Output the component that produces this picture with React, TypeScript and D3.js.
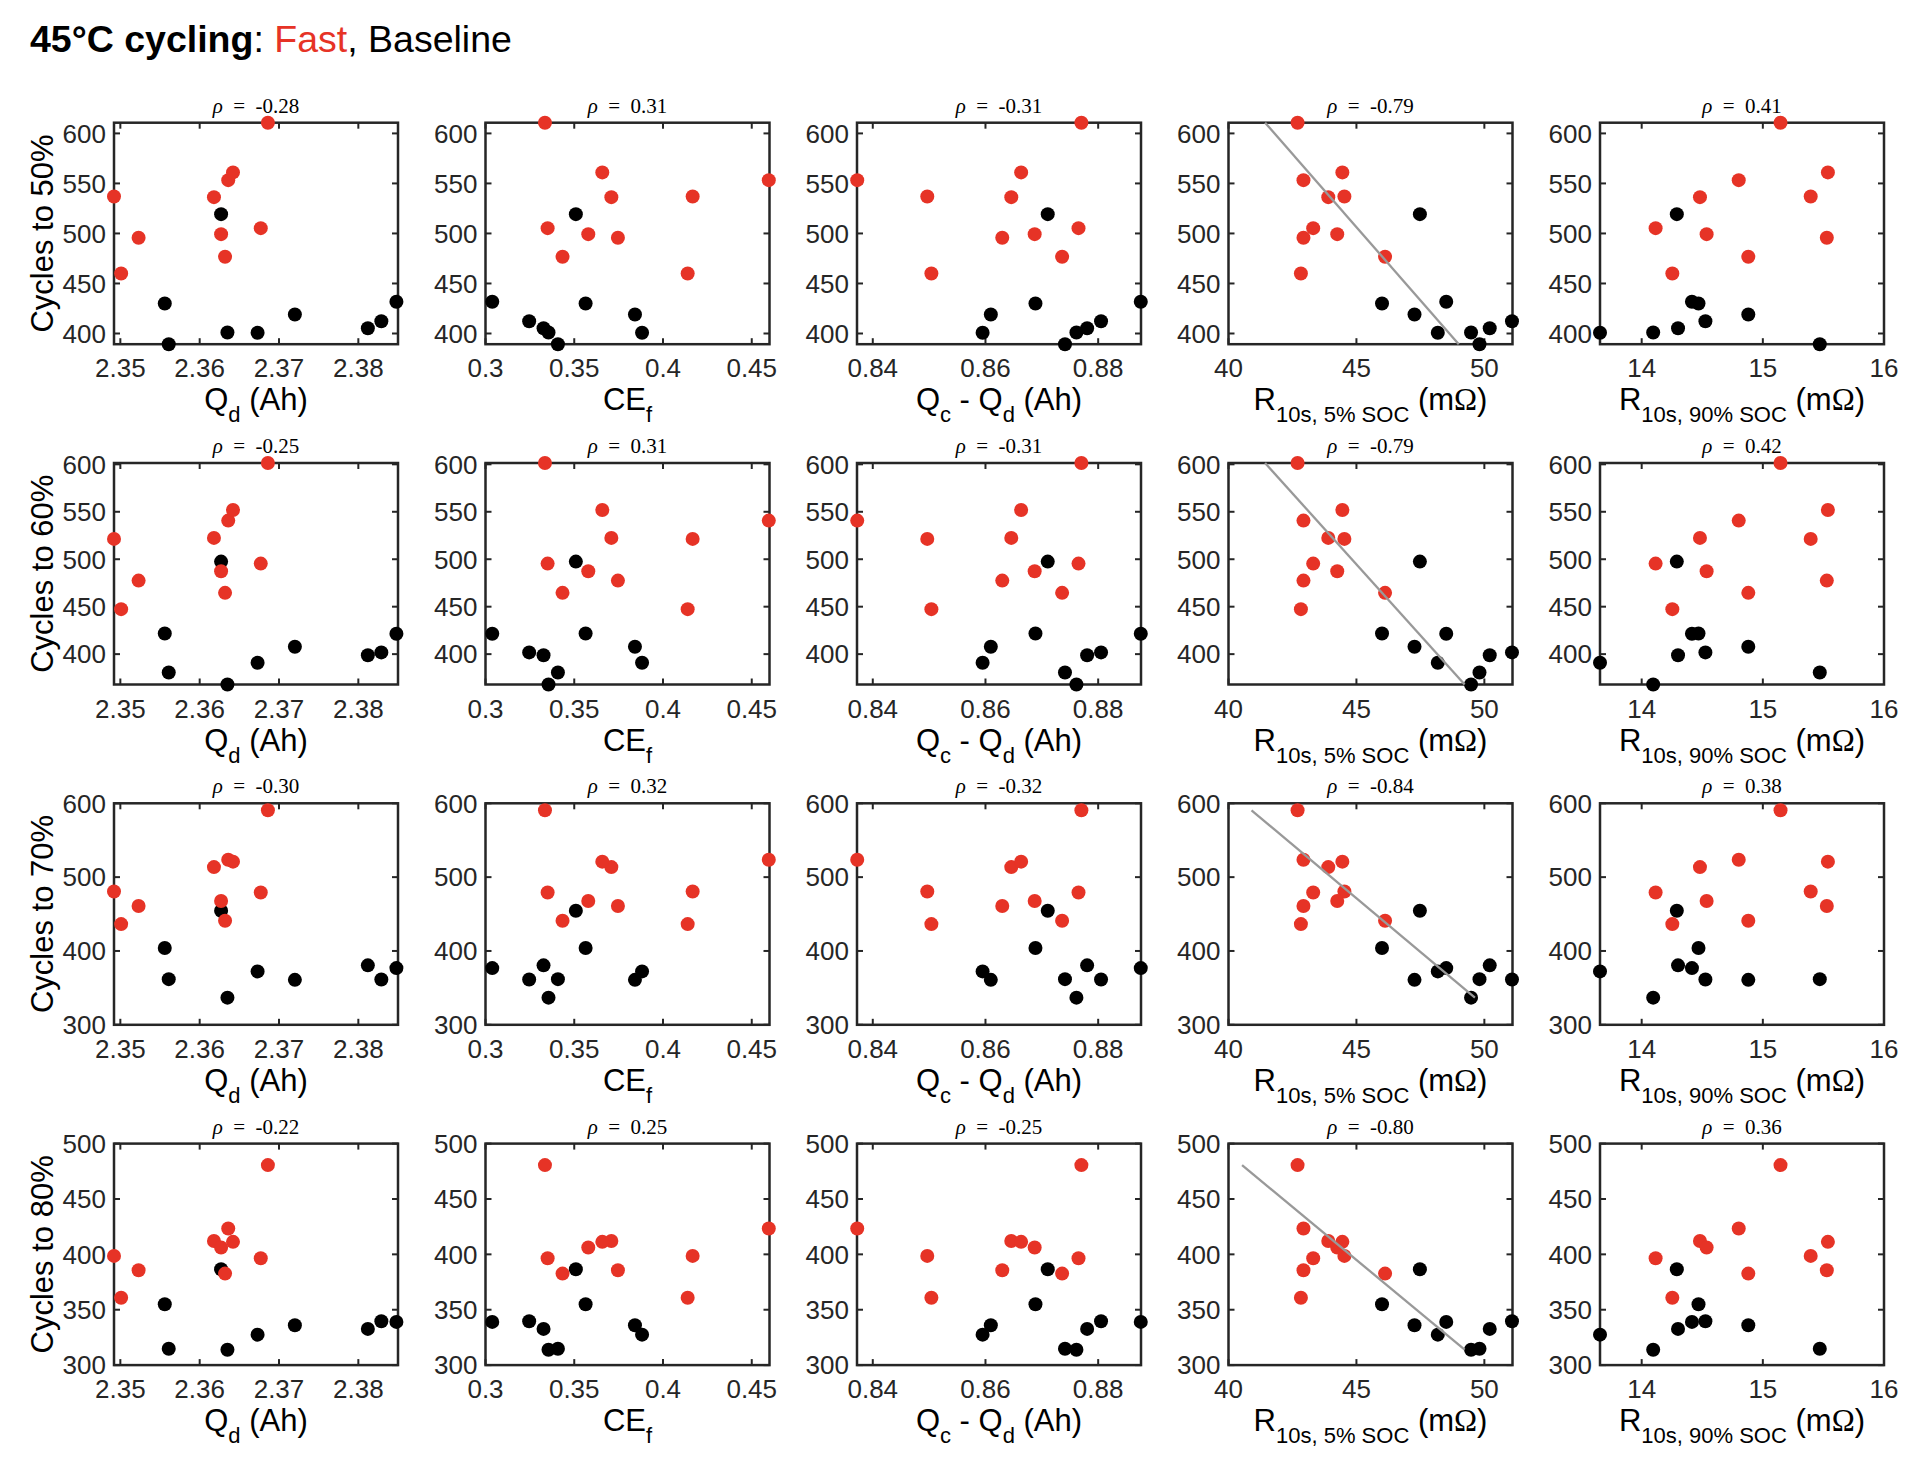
import React from 'react';
import * as d3 from 'd3';

// ---- data: 19 cells (10 Fast, 9 Baseline) ----
const group = ['F','F','F','F','F','F','F','F','F','F','B','B','B','B','B','B','B','B','B'];
const qd = [2.3492, 2.3501, 2.3523, 2.3618, 2.3636, 2.3642, 2.3627, 2.3632, 2.3677, 2.3686, 2.3556, 2.3561, 2.3627, 2.3635, 2.3673, 2.3720, 2.3812, 2.3829, 2.3848];
const ceF = [0.4167, 0.4139, 0.3746, 0.3709, 0.4596, 0.3658, 0.3579, 0.3434, 0.3350, 0.3335, 0.3564, 0.3408, 0.3509, 0.3355, 0.3882, 0.3842, 0.3327, 0.3246, 0.3038];
const qcMinusQd = [0.84967, 0.85040, 0.86298, 0.86458, 0.83724, 0.86633, 0.86873, 0.87360, 0.87651, 0.87702, 0.86887, 0.87411, 0.87105, 0.87614, 0.85949, 0.86095, 0.87804, 0.88051, 0.88756];
const r5soc = [44.53, 42.83, 42.93, 43.90, 42.93, 44.45, 44.25, 46.12, 43.31, 42.70, 46.00, 49.81, 47.48, 49.48, 48.18, 47.27, 50.21, 51.08, 48.51];
const r90soc = [15.395, 14.253, 15.528, 14.481, 14.801, 15.537, 14.536, 14.880, 14.115, 15.146, 14.469, 15.470, 14.290, 14.095, 13.656, 14.880, 14.300, 14.526, 14.415];
const cyc50 = [537, 460, 495.7, 536.3, 553.3, 561, 499.3, 476.7, 505.3, 610.7, 430, 389.3, 519.3, 401, 400.7, 419, 405.3, 412.3, 431.7];
const cyc60 = [521.4, 447.4, 477.5, 522.5, 540.7, 551.9, 487.4, 464.6, 495.4, 601.4, 421.8, 380.7, 497.5, 368, 390.9, 407.7, 398.9, 401.8, 421.4];
const cyc70 = [480.5, 436.4, 460.9, 513.6, 523.6, 521, 467.7, 440.9, 479.1, 590.5, 404, 361.8, 454.5, 336.8, 372.3, 360.9, 380.5, 361.4, 376.8];
const cyc80 = [398.6, 360.8, 385.6, 412, 423.4, 411.3, 406.2, 382.6, 396.5, 480.6, 355, 314.8, 386.5, 313.9, 327.5, 336, 332.7, 339.6, 339];

const xDomains = [[2.3492, 2.3850], [0.30, 0.46], [0.8372, 0.8876], [40, 51.1], [13.656, 16]];
const xTicks = [[2.35, 2.36, 2.37, 2.38], [0.3, 0.35, 0.4, 0.45], [0.84, 0.86, 0.88], [40, 45, 50], [14, 15, 16]];
const yDomains = [[389.3, 610.7], [368, 601.4], [300, 600], [300, 500]];
const yTicks = [[400, 450, 500, 550, 600], [400, 450, 500, 550, 600], [300, 400, 500, 600], [300, 350, 400, 450, 500]];
const rowLabels = ['Cycles to 50%', 'Cycles to 60%', 'Cycles to 70%', 'Cycles to 80%'];
const rhoValues = [
  [-0.28, 0.31, -0.31, -0.79, 0.41],
  [-0.25, 0.31, -0.31, -0.79, 0.42],
  [-0.30, 0.32, -0.32, -0.84, 0.38],
  [-0.22, 0.25, -0.25, -0.80, 0.36],
];
// fit line in the R(5% SOC) column: x at the row's max cycles and x at the row's min cycles
const fitXAtMaxY = [41.43, 41.43, 40.9, 40.53];
const fitXAtMinY = [49.0, 49.23, 49.63, 49.23];

const xSeries = [qd, ceF, qcMinusQd, r5soc, r90soc];
const ySeries = [cyc50, cyc60, cyc70, cyc80];

// ---- layout / style ----
const W = 1916, H = 1470;
const RED = '#E63326';
const AX = '#262626';
const SANS = '"Liberation Sans", Arial, Helvetica, sans-serif';
const SERIF = '"Liberation Serif", "Times New Roman", serif';
const colLeft0 = 114, colStep = 371.5, plotW = 284;
const rowTop0 = 122.7, rowStep = 340.3, plotH = 221.5;
const tickLen = 6;
const tickFs = 26;
const labelFs = 31;
const subFs = 22;
const subDy = 12;
const dotR = 7;

function fmt(v: number) {
  return String(+v.toFixed(4));
}

function XLabel({ col }: { col: number }) {
  const sub = (t: string) => (
    <tspan dy={subDy} fontSize={subFs}>{t}</tspan>
  );
  const back = (t: string) => <tspan dy={-subDy}>{t}</tspan>;
  if (col === 0) return <>{'Q'}{sub('d')}{back(' (Ah)')}</>;
  if (col === 1) return <>{'CE'}{sub('f')}</>;
  if (col === 2) return <>{'Q'}{sub('c')}{back(' - Q')}{sub('d')}{back(' (Ah)')}</>;
  const s = col === 3 ? '10s, 5% SOC' : '10s, 90% SOC';
  return <>{'R'}{sub(s)}{back(' (m')}<tspan fontFamily={SERIF}>Ω</tspan><tspan>)</tspan></>;
}

function Panel({ row, col }: { row: number; col: number }) {
  const left = colLeft0 + col * colStep;
  const top = rowTop0 + row * rowStep;
  const x = d3.scaleLinear().domain(xDomains[col]).range([left, left + plotW]);
  const y = d3.scaleLinear().domain(yDomains[row]).range([top + plotH, top]);
  const xs = xSeries[col];
  const ys = ySeries[row];
  const idx = d3.range(xs.length);
  const base = idx.filter((i) => group[i] === 'B');
  const fast = idx.filter((i) => group[i] === 'F');
  const [yMin, yMax] = d3.extent(ys) as [number, number];
  const rho = rhoValues[row][col];
  const line = d3.line<[number, number]>().x((d) => x(d[0])).y((d) => y(d[1]));
  return (
    <g>
      {xTicks[col].map((t) => (
        <g key={'xt' + t}>
          <line x1={x(t)} x2={x(t)} y1={top + plotH} y2={top + plotH - tickLen} stroke={AX} strokeWidth={2} />
          <line x1={x(t)} x2={x(t)} y1={top} y2={top + tickLen} stroke={AX} strokeWidth={2} />
          <text x={x(t)} y={top + plotH + 33} textAnchor="middle" fontSize={tickFs} fill={AX}>{fmt(t)}</text>
        </g>
      ))}
      {yTicks[row].map((t) => (
        <g key={'yt' + t}>
          <line x1={left} x2={left + tickLen} y1={y(t)} y2={y(t)} stroke={AX} strokeWidth={2} />
          <line x1={left + plotW} x2={left + plotW - tickLen} y1={y(t)} y2={y(t)} stroke={AX} strokeWidth={2} />
          <text x={left - 8} y={y(t)} dy="0.36em" textAnchor="end" fontSize={tickFs} fill={AX}>{fmt(t)}</text>
        </g>
      ))}
      <rect x={left} y={top} width={plotW} height={plotH} fill="none" stroke={AX} strokeWidth={2.5} />
      {base.map((i) => (
        <circle key={'b' + i} cx={x(xs[i])} cy={y(ys[i])} r={dotR} fill="#000" />
      ))}
      {fast.map((i) => (
        <circle key={'f' + i} cx={x(xs[i])} cy={y(ys[i])} r={dotR} fill={RED} />
      ))}
      {col === 3 && (
        <path
          d={line([[fitXAtMaxY[row], yMax], [fitXAtMinY[row], yMin]]) || ''}
          stroke="#999999"
          strokeWidth={2.3}
          fill="none"
        />
      )}
      <text x={left + plotW / 2} y={top - 10} textAnchor="middle" fontFamily={SERIF} fontSize={21} fill="#000" style={{ whiteSpace: 'pre' }}>
        <tspan fontStyle="italic">ρ</tspan>
        <tspan>{'\u2002=\u2002' + rho.toFixed(2)}</tspan>
      </text>
      <text x={left + plotW / 2} y={top + plotH + 66} textAnchor="middle" fontSize={labelFs} fill="#000" style={{ whiteSpace: 'pre' }}>
        <XLabel col={col} />
      </text>
      {col === 0 && (
        <text
          transform={`translate(${53},${top + plotH / 2}) rotate(-90)`}
          textAnchor="middle"
          fontSize={labelFs}
          fill="#000"
        >
          {rowLabels[row]}
        </text>
      )}
    </g>
  );
}

export default function App() {
  const rows = d3.range(4);
  const cols = d3.range(5);
  return (
    <svg
      width={W}
      height={H}
      viewBox={`0 0 ${W} ${H}`}
      style={{ position: 'absolute', left: 0, top: 0, background: '#fff' }}
      fontFamily={SANS}
    >
      <rect x={0} y={0} width={W} height={H} fill="#fff" />
      <text x={30} y={52} fontSize={37.5} fill="#000" style={{ whiteSpace: 'pre' }}>
        <tspan fontWeight="bold">45°C cycling</tspan>
        <tspan>: </tspan>
        <tspan fill={RED}>Fast</tspan>
        <tspan>, Baseline</tspan>
      </text>
      {rows.map((r) => cols.map((c) => <Panel key={r + '-' + c} row={r} col={c} />))}
    </svg>
  );
}
